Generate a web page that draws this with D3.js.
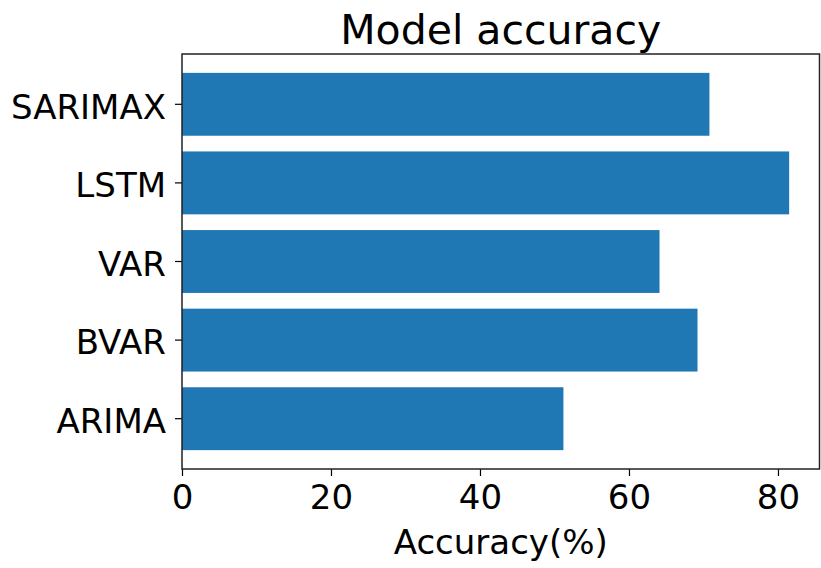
<!DOCTYPE html>
<html>
<head>
<meta charset="utf-8">
<script src="https://cdn.jsdelivr.net/npm/d3@7"></script>
<style>
  body { margin: 0; background: #fff; }
  svg text { font-family: "DejaVu Sans", sans-serif; fill: #000; }
</style>
</head>
<body>
<div class="chart"></div>
<script>
// data, bottom to top
var models = ["ARIMA", "BVAR", "VAR", "LSTM", "SARIMAX"];
var accuracy = [51.2, 69.2, 64.1, 81.5, 70.8];
var xTicks = [0, 20, 40, 60, 80];

//frame
var width = 821,
    height = 568;
var margin = {top: 54, right: 1.5, bottom: 99, left: 182};

var svg = d3.select("div.chart")
    .append("svg")
    .attr("width", width)
    .attr("height", height);

var plotW = width - margin.left - margin.right,
    plotH = height - margin.top - margin.bottom;

var g = svg.append("g")
    .attr("transform", "translate(" + margin.left + "," + margin.top + ")");

//matplotlib style x limit: 5% past the longest bar
var x = d3.scaleLinear()
    .domain([0, d3.max(accuracy) * 1.05])
    .range([0, plotW]);

//reversed so the first model sits at the bottom
var y = d3.scaleBand()
    .domain(models.slice().reverse())
    .range([0, plotH])
    .paddingInner(0.2)
    .paddingOuter(0.24);

//bars
g.selectAll(".bar")
    .data(models)
    .enter()
    .append("rect")
    .attr("class", "bar")
    .attr("x", x(0))
    .attr("y", function(d){ return y(d); })
    .attr("width", function(d, i){ return x(accuracy[i]) - x(0); })
    .attr("height", y.bandwidth())
    .attr("fill", "#1f77b4");

//x axis
var xAxis = g.append("g")
    .attr("transform", "translate(0," + plotH + ")")
    .call(d3.axisBottom(x).tickValues(xTicks).tickSize(7).tickPadding(9).tickFormat(d3.format("d")));
xAxis.select(".domain").remove();
xAxis.selectAll("text").style("font-size", "34px").attr("dy", "0.71em");
xAxis.selectAll("line").attr("stroke", "#000").attr("stroke-width", 1.2);

//y axis
var yAxis = g.append("g")
    .call(d3.axisLeft(y).tickSize(7).tickPadding(9));
yAxis.select(".domain").remove();
yAxis.selectAll("text").style("font-size", "34px").attr("dy", "0.42em");
yAxis.selectAll("line").attr("stroke", "#000").attr("stroke-width", 1.2);

//frame box
g.append("rect")
    .attr("x", 0)
    .attr("y", 0)
    .attr("width", plotW)
    .attr("height", plotH)
    .attr("fill", "none")
    .attr("stroke", "#222")
    .attr("stroke-width", 1.5);

//title and label
svg.append("text")
    .attr("x", margin.left + plotW / 2)
    .attr("y", 44)
    .attr("text-anchor", "middle")
    .style("font-size", "41px")
    .text("Model accuracy");

svg.append("text")
    .attr("x", margin.left + plotW / 2)
    .attr("y", 554)
    .attr("text-anchor", "middle")
    .style("font-size", "34px")
    .text("Accuracy(%)");
</script>
</body>
</html>
